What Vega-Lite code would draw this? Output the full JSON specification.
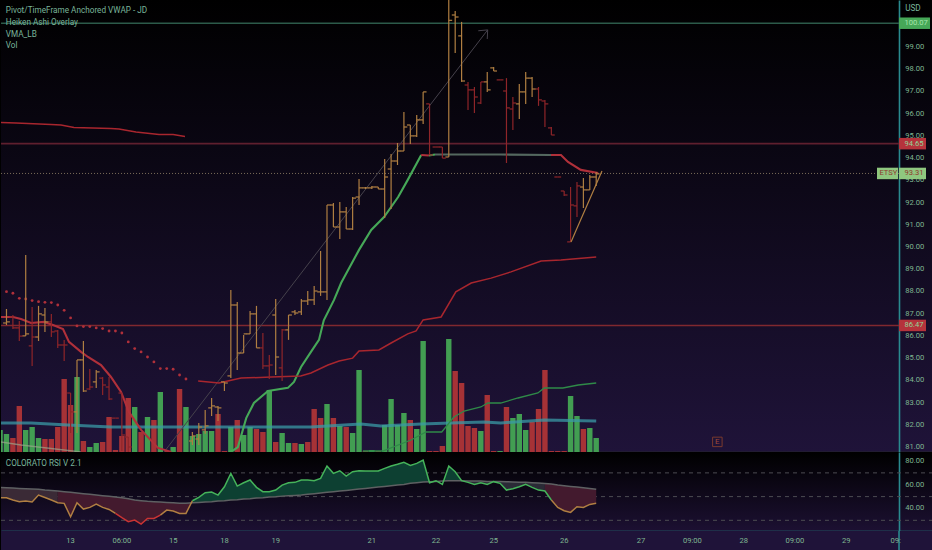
{
"$schema":"https://vega.github.io/schema/vega-lite/v6.json",
"padding":0,
"spacing":0,
"bounds":"flush",
"background":"#000000",
"config":{"legend":{"disable":true},"view":{"stroke":null},"concat":{"spacing":0},"font":"Roboto","axis":{"labelFont":"Roboto","labelFontSize":7.6,"labelColor":"#7fb591","grid":false}},
"datasets":{
"bars":[
{"t":0,"h":87.21,"l":86.49,"o":86.58,"c":86.63,"dir":"up"},
{"t":1,"h":86.94,"l":86.31,"o":86.85,"c":86.36,"dir":"down"},
{"t":2,"h":86.67,"l":85.77,"o":86.36,"c":85.99,"dir":"down"},
{"t":3,"h":89.64,"l":86.0,"o":86.0,"c":86.09,"dir":"up"},
{"t":4,"h":87.3,"l":84.65,"o":85.55,"c":85.95,"dir":"down"},
{"t":5,"h":87.35,"l":85.77,"o":85.95,"c":86.99,"dir":"up"},
{"t":6,"h":87.26,"l":86.18,"o":86.94,"c":86.63,"dir":"up"},
{"t":7,"h":86.99,"l":85.95,"o":86.63,"c":86.18,"dir":"down"},
{"t":8,"h":86.27,"l":85.46,"o":86.22,"c":85.59,"dir":"down"},
{"t":9,"h":85.82,"l":84.87,"o":85.59,"c":85.59,"dir":"down"},
{"t":10,"h":83.43,"l":81.63,"o":83.43,"c":82.58,"dir":"down"},
{"t":11,"h":84.92,"l":81.63,"o":82.58,"c":84.92,"dir":"up"},
{"t":12,"h":85.77,"l":83.48,"o":84.92,"c":83.52,"dir":"up"},
{"t":13,"h":84.51,"l":83.57,"o":83.61,"c":83.7,"dir":"down"},
{"t":14,"h":84.47,"l":83.66,"o":83.93,"c":84.38,"dir":"up"},
{"t":15,"h":84.15,"l":83.34,"o":84.1,"c":83.79,"dir":"down"},
{"t":16,"h":84.15,"l":83.12,"o":83.7,"c":83.16,"dir":"down"},
{"t":17,"h":82.3,"l":82.3,"o":82.3,"c":82.3,"dir":"down"},
{"t":18,"h":83.43,"l":80.82,"o":83.43,"c":81.54,"dir":"down"},
{"t":19,"h":81.45,"l":80.78,"o":81.45,"c":81.0,"dir":"down"},
{"t":29,"h":81.68,"l":81.09,"o":81.27,"c":81.5,"dir":"up"},
{"t":30,"h":82.08,"l":81.09,"o":81.36,"c":81.9,"dir":"up"},
{"t":31,"h":82.67,"l":81.6,"o":81.77,"c":81.95,"dir":"up"},
{"t":32,"h":83.21,"l":82.4,"o":82.76,"c":82.85,"dir":"up"},
{"t":33,"h":82.85,"l":82.17,"o":82.8,"c":82.76,"dir":"up"},
{"t":34,"h":83.93,"l":83.52,"o":83.93,"c":83.88,"dir":"up"},
{"t":35,"h":88.07,"l":84.1,"o":84.2,"c":87.39,"dir":"up"},
{"t":36,"h":87.53,"l":84.47,"o":87.39,"c":85.23,"dir":"up"},
{"t":37,"h":86.04,"l":85.23,"o":85.23,"c":86.09,"dir":"up"},
{"t":38,"h":87.12,"l":86.09,"o":86.09,"c":86.99,"dir":"up"},
{"t":39,"h":87.35,"l":85.46,"o":86.99,"c":85.46,"dir":"up"},
{"t":40,"h":86.13,"l":84.51,"o":85.46,"c":84.65,"dir":"down"},
{"t":41,"h":85.14,"l":84.06,"o":84.65,"c":84.69,"dir":"down"},
{"t":42,"h":87.66,"l":84.24,"o":86.94,"c":85.05,"dir":"up"},
{"t":43,"h":86.31,"l":83.97,"o":84.56,"c":86.27,"dir":"down"},
{"t":44,"h":86.94,"l":85.82,"o":86.27,"c":86.94,"dir":"up"},
{"t":45,"h":87.17,"l":86.94,"o":87.08,"c":87.03,"dir":"up"},
{"t":46,"h":87.66,"l":86.94,"o":87.08,"c":87.57,"dir":"up"},
{"t":47,"h":88.02,"l":87.39,"o":87.57,"c":87.62,"dir":"up"},
{"t":48,"h":88.25,"l":87.39,"o":87.62,"c":88.02,"dir":"up"},
{"t":49,"h":89.82,"l":87.8,"o":87.98,"c":87.98,"dir":"up"},
{"t":50,"h":91.89,"l":87.62,"o":87.98,"c":91.89,"dir":"up"},
{"t":51,"h":91.98,"l":90.9,"o":91.89,"c":90.9,"dir":"up"},
{"t":52,"h":92.03,"l":90.36,"o":90.9,"c":91.58,"dir":"up"},
{"t":53,"h":91.8,"l":90.81,"o":91.58,"c":90.81,"dir":"up"},
{"t":54,"h":92.25,"l":90.77,"o":90.81,"c":92.2,"dir":"up"},
{"t":55,"h":93.06,"l":91.89,"o":92.25,"c":92.66,"dir":"up"},
{"t":56,"h":92.7,"l":92.61,"o":92.66,"c":92.66,"dir":"up"},
{"t":57,"h":92.75,"l":92.61,"o":92.66,"c":92.7,"dir":"up"},
{"t":58,"h":92.7,"l":92.61,"o":92.7,"c":92.61,"dir":"up"},
{"t":59,"h":93.96,"l":91.31,"o":92.61,"c":93.15,"dir":"up"},
{"t":60,"h":94.19,"l":91.71,"o":93.51,"c":93.87,"dir":"up"},
{"t":61,"h":94.68,"l":93.69,"o":93.87,"c":94.32,"dir":"up"},
{"t":62,"h":96.08,"l":94.32,"o":94.32,"c":95.4,"dir":"up"},
{"t":63,"h":95.49,"l":94.64,"o":95.49,"c":95.0,"dir":"up"},
{"t":64,"h":95.94,"l":94.95,"o":95.0,"c":95.72,"dir":"up"},
{"t":65,"h":96.98,"l":95.54,"o":95.72,"c":96.98,"dir":"up"},
{"t":66,"h":96.44,"l":94.14,"o":96.44,"c":94.14,"dir":"down"},
{"t":67,"h":94.5,"l":94.5,"o":94.5,"c":94.5,"dir":"down"},
{"t":68,"h":94.5,"l":94.0,"o":94.5,"c":94.0,"dir":"down"},
{"t":69,"h":101.12,"l":94.05,"o":94.05,"c":100.2,"dir":"up"},
{"t":70,"h":100.62,"l":98.73,"o":100.44,"c":100.35,"dir":"up"},
{"t":71,"h":100.13,"l":97.43,"o":99.5,"c":97.47,"dir":"up"},
{"t":72,"h":97.43,"l":96.17,"o":97.29,"c":97.07,"dir":"down"},
{"t":73,"h":97.2,"l":96.03,"o":97.07,"c":96.75,"dir":"down"},
{"t":74,"h":97.43,"l":96.44,"o":96.48,"c":97.43,"dir":"down"},
{"t":75,"h":97.88,"l":96.98,"o":97.43,"c":97.07,"dir":"up"},
{"t":76,"h":98.1,"l":97.92,"o":98.06,"c":97.92,"dir":"up"},
{"t":77,"h":97.52,"l":97.52,"o":97.52,"c":97.52,"dir":"down"},
{"t":78,"h":97.6,"l":93.78,"o":97.02,"c":96.26,"dir":"down"},
{"t":79,"h":96.75,"l":95.27,"o":96.21,"c":96.48,"dir":"down"},
{"t":80,"h":97.34,"l":95.76,"o":96.44,"c":96.98,"dir":"up"},
{"t":81,"h":97.88,"l":96.44,"o":96.98,"c":97.6,"dir":"up"},
{"t":82,"h":97.65,"l":96.75,"o":97.6,"c":97.11,"dir":"up"},
{"t":83,"h":97.2,"l":96.35,"o":97.11,"c":96.62,"dir":"down"},
{"t":84,"h":96.62,"l":95.4,"o":96.57,"c":96.44,"dir":"down"},
{"t":85,"h":95.4,"l":95.04,"o":95.36,"c":95.04,"dir":"down"},
{"t":86,"h":93.15,"l":93.15,"o":93.15,"c":93.15,"dir":"down"},
{"t":87,"h":92.52,"l":92.3,"o":92.52,"c":92.34,"dir":"down"},
{"t":88,"h":92.7,"l":90.23,"o":90.23,"c":91.89,"dir":"down"},
{"t":89,"h":92.93,"l":91.35,"o":91.85,"c":92.75,"dir":"down"},
{"t":90,"h":93.11,"l":91.76,"o":92.7,"c":92.57,"dir":"up"},
{"t":91,"h":93.24,"l":92.57,"o":92.57,"c":93.15,"dir":"up"},
{"t":92,"h":93.38,"l":92.75,"o":93.15,"c":93.29,"dir":"up"}
],
"volume":[
{"t":-1,"vol":44,"side":"up"},{"t":0,"vol":36,"side":"up"},{"t":1,"vol":28,"side":"down"},{"t":2,"vol":92,"side":"down"},{"t":3,"vol":44,"side":"up"},{"t":4,"vol":50,"side":"up"},{"t":5,"vol":28,"side":"up"},{"t":6,"vol":26,"side":"down"},{"t":7,"vol":26,"side":"down"},{"t":8,"vol":50,"side":"down"},
{"t":9,"vol":146,"side":"down"},{"t":10,"vol":94,"side":"down"},{"t":11,"vol":150,"side":"up"},{"t":12,"vol":22,"side":"down"},{"t":13,"vol":10,"side":"up"},{"t":14,"vol":18,"side":"up"},{"t":15,"vol":20,"side":"down"},{"t":16,"vol":70,"side":"down"},{"t":17,"vol":4,"side":"down"},{"t":18,"vol":32,"side":"down"},
{"t":19,"vol":108,"side":"down"},{"t":20,"vol":90,"side":"up"},{"t":21,"vol":40,"side":"down"},{"t":22,"vol":70,"side":"up"},{"t":23,"vol":64,"side":"down"},{"t":24,"vol":120,"side":"up"},{"t":25,"vol":2,"side":"down"},{"t":26,"vol":10,"side":"up"},{"t":27,"vol":126,"side":"down"},{"t":28,"vol":90,"side":"up"},
{"t":29,"vol":32,"side":"up"},{"t":30,"vol":36,"side":"up"},{"t":31,"vol":42,"side":"up"},{"t":32,"vol":42,"side":"up"},{"t":33,"vol":76,"side":"down"},{"t":34,"vol":2,"side":"down"},{"t":35,"vol":50,"side":"up"},{"t":36,"vol":64,"side":"down"},{"t":37,"vol":34,"side":"up"},{"t":38,"vol":50,"side":"up"},
{"t":39,"vol":46,"side":"down"},{"t":40,"vol":40,"side":"down"},{"t":41,"vol":124,"side":"up"},{"t":42,"vol":20,"side":"down"},{"t":43,"vol":38,"side":"up"},{"t":44,"vol":18,"side":"up"},{"t":45,"vol":18,"side":"down"},{"t":46,"vol":16,"side":"up"},{"t":47,"vol":20,"side":"down"},{"t":48,"vol":86,"side":"down"},
{"t":49,"vol":68,"side":"down"},{"t":50,"vol":96,"side":"up"},{"t":51,"vol":68,"side":"down"},{"t":52,"vol":52,"side":"up"},{"t":53,"vol":50,"side":"down"},{"t":54,"vol":38,"side":"up"},{"t":55,"vol":164,"side":"up"},{"t":56,"vol":2,"side":"down"},{"t":57,"vol":4,"side":"up"},{"t":58,"vol":2,"side":"down"},
{"t":59,"vol":54,"side":"up"},{"t":60,"vol":106,"side":"up"},{"t":61,"vol":54,"side":"up"},{"t":62,"vol":78,"side":"up"},{"t":63,"vol":64,"side":"down"},{"t":64,"vol":46,"side":"up"},{"t":65,"vol":222,"side":"up"},{"t":66,"vol":2,"side":"down"},{"t":67,"vol":2,"side":"down"},{"t":68,"vol":12,"side":"down"},
{"t":69,"vol":226,"side":"up"},{"t":70,"vol":162,"side":"down"},{"t":71,"vol":138,"side":"down"},{"t":72,"vol":52,"side":"down"},{"t":73,"vol":48,"side":"down"},{"t":74,"vol":42,"side":"up"},{"t":75,"vol":114,"side":"down"},{"t":76,"vol":2,"side":"down"},{"t":77,"vol":2,"side":"up"},{"t":78,"vol":90,"side":"down"},
{"t":79,"vol":68,"side":"up"},{"t":80,"vol":76,"side":"up"},{"t":81,"vol":44,"side":"up"},{"t":82,"vol":60,"side":"down"},{"t":83,"vol":86,"side":"down"},{"t":84,"vol":164,"side":"down"},{"t":85,"vol":2,"side":"down"},{"t":86,"vol":2,"side":"down"},{"t":87,"vol":2,"side":"down"},{"t":88,"vol":112,"side":"up"},
{"t":89,"vol":72,"side":"up"},{"t":90,"vol":46,"side":"down"},{"t":91,"vol":48,"side":"up"},{"t":92,"vol":28,"side":"up"}
],
"volumeAverages":[
{"t":-0.85,"vol":58,"line":"teal"},{"t":3.83,"vol":58,"line":"teal"},{"t":9.6,"vol":54,"line":"teal"},{"t":16.3,"vol":50,"line":"teal"},{"t":30.4,"vol":50,"line":"teal"},{"t":47.5,"vol":50,"line":"teal"},{"t":55.3,"vol":56,"line":"teal"},{"t":58.4,"vol":52,"line":"teal"},{"t":64.7,"vol":56,"line":"teal"},{"t":69.3,"vol":58,"line":"teal"},{"t":74.5,"vol":60,"line":"teal"},{"t":77.1,"vol":58,"line":"teal"},{"t":83.9,"vol":64,"line":"teal"},{"t":92,"vol":62,"line":"teal"},
{"t":55.6,"vol":2,"line":"green"},{"t":58.7,"vol":2,"line":"green"},{"t":63.1,"vol":24,"line":"green"},{"t":65.45,"vol":40,"line":"green"},{"t":67.9,"vol":40,"line":"green"},{"t":69.8,"vol":70,"line":"green"},{"t":71.4,"vol":82,"line":"green"},{"t":74,"vol":90,"line":"green"},{"t":75.1,"vol":98,"line":"green"},{"t":77.1,"vol":98,"line":"green"},{"t":79.8,"vol":108,"line":"green"},{"t":82.9,"vol":118,"line":"green"},{"t":83.9,"vol":128,"line":"green"},{"t":86.8,"vol":128,"line":"green"},{"t":89.2,"vol":134,"line":"green"},{"t":92,"vol":138,"line":"green"},
{"t":-0.85,"vol":20,"line":"pale"},{"t":2.27,"vol":14,"line":"pale"},{"t":11.6,"vol":0,"line":"pale"}
],
"vma":[
{"t":-0.85,"p":86.85,"kind":"red","run":"a"},{"t":1.02,"p":86.85,"kind":"red","run":"a"},{"t":2.27,"p":86.76,"kind":"red","run":"a"},{"t":3.83,"p":86.58,"kind":"red","run":"a"},{"t":5.85,"p":86.63,"kind":"red","run":"a"},{"t":7.26,"p":86.49,"kind":"red","run":"a"},{"t":8.82,"p":86.31,"kind":"red","run":"a"},{"t":9.75,"p":85.73,"kind":"red","run":"a"},{"t":11.63,"p":85.28,"kind":"red","run":"a"},{"t":12.72,"p":85.05,"kind":"red","run":"a"},{"t":14.75,"p":84.69,"kind":"red","run":"a"},{"t":16.3,"p":84.15,"kind":"red","run":"a"},{"t":17.87,"p":83.48,"kind":"red","run":"a"},{"t":19.1,"p":82.58,"kind":"red","run":"a"},{"t":21,"p":81.77,"kind":"red","run":"a"},{"t":23.64,"p":80.96,"kind":"red","run":"a"},{"t":25.7,"p":80.78,"kind":"red","run":"a"},
{"t":34.7,"p":80.78,"kind":"green","run":"b"},{"t":35.5,"p":80.87,"kind":"green","run":"b"},{"t":36.1,"p":81.0,"kind":"green","run":"b"},{"t":37.4,"p":82.3,"kind":"green","run":"b"},{"t":38.6,"p":82.98,"kind":"green","run":"b"},{"t":40.8,"p":83.52,"kind":"green","run":"b"},{"t":43.9,"p":83.66,"kind":"green","run":"b"},{"t":44.85,"p":83.93,"kind":"green","run":"b"},{"t":45.95,"p":84.6,"kind":"green","run":"b"},{"t":47.5,"p":85.28,"kind":"green","run":"b"},{"t":48.75,"p":85.82,"kind":"green","run":"b"},{"t":49.5,"p":86.7,"kind":"green","run":"b"},{"t":51.1,"p":87.62,"kind":"green","run":"b"},{"t":52.2,"p":88.38,"kind":"green","run":"b"},{"t":55,"p":89.87,"kind":"green","run":"b"},{"t":56.9,"p":90.77,"kind":"green","run":"b"},{"t":58.9,"p":91.35,"kind":"green","run":"b"},{"t":61.1,"p":92.25,"kind":"green","run":"b"},{"t":62.6,"p":93.02,"kind":"green","run":"b"},{"t":64.7,"p":94.14,"kind":"green","run":"b"},
{"t":64.7,"p":94.14,"kind":"red","run":"c"},{"t":65.9,"p":94.12,"kind":"red","run":"c"},
{"t":65.9,"p":94.12,"kind":"green","run":"d"},{"t":66.85,"p":94.16,"kind":"green","run":"d"},
{"t":66.85,"p":94.16,"kind":"grey","run":"e"},{"t":70.9,"p":94.16,"kind":"grey","run":"e"},{"t":77.1,"p":94.16,"kind":"grey","run":"e"},{"t":84.95,"p":94.14,"kind":"grey","run":"e"},
{"t":84.95,"p":94.14,"kind":"red","run":"f"},{"t":86.5,"p":94.14,"kind":"red","run":"f"},{"t":87.6,"p":93.83,"kind":"red","run":"f"},{"t":89.6,"p":93.47,"kind":"red","run":"f"},{"t":92.3,"p":93.33,"kind":"red","run":"f"}
],
"overlays":[
{"t":-0.85,"p":95.6,"line":"vwapTop","kind":"vwap"},{"t":1.49,"p":95.58,"line":"vwapTop","kind":"vwap"},{"t":6.95,"p":95.51,"line":"vwapTop","kind":"vwap"},{"t":8.5,"p":95.49,"line":"vwapTop","kind":"vwap"},{"t":10.53,"p":95.38,"line":"vwapTop","kind":"vwap"},{"t":16.3,"p":95.33,"line":"vwapTop","kind":"vwap"},{"t":17.55,"p":95.31,"line":"vwapTop","kind":"vwap"},{"t":20.2,"p":95.18,"line":"vwapTop","kind":"vwap"},{"t":23.8,"p":95.06,"line":"vwapTop","kind":"vwap"},{"t":26,"p":95.06,"line":"vwapTop","kind":"vwap"},{"t":27.85,"p":94.97,"line":"vwapTop","kind":"vwap"},
{"t":29.9,"p":83.97,"line":"vwapLow","kind":"vwap"},{"t":33.15,"p":83.88,"line":"vwapLow","kind":"vwap"},{"t":36.6,"p":84.1,"line":"vwapLow","kind":"vwap"},{"t":41.3,"p":84.15,"line":"vwapLow","kind":"vwap"},{"t":45.9,"p":84.2,"line":"vwapLow","kind":"vwap"},{"t":47.5,"p":84.33,"line":"vwapLow","kind":"vwap"},{"t":50.15,"p":84.69,"line":"vwapLow","kind":"vwap"},{"t":51.9,"p":84.87,"line":"vwapLow","kind":"vwap"},{"t":54,"p":85.0,"line":"vwapLow","kind":"vwap"},{"t":55,"p":85.32,"line":"vwapLow","kind":"vwap"},{"t":58.1,"p":85.37,"line":"vwapLow","kind":"vwap"},{"t":60,"p":85.68,"line":"vwapLow","kind":"vwap"},{"t":62.6,"p":86.09,"line":"vwapLow","kind":"vwap"},{"t":63.9,"p":86.22,"line":"vwapLow","kind":"vwap"},{"t":65,"p":86.72,"line":"vwapLow","kind":"vwap"},{"t":67.8,"p":86.85,"line":"vwapLow","kind":"vwap"},{"t":70.1,"p":87.98,"line":"vwapLow","kind":"vwap"},{"t":72.5,"p":88.38,"line":"vwapLow","kind":"vwap"},{"t":75.6,"p":88.6,"line":"vwapLow","kind":"vwap"},{"t":78.7,"p":88.88,"line":"vwapLow","kind":"vwap"},{"t":83.4,"p":89.37,"line":"vwapLow","kind":"vwap"},{"t":86.5,"p":89.42,"line":"vwapLow","kind":"vwap"},{"t":92,"p":89.55,"line":"vwapLow","kind":"vwap"},
{"t":24.6,"p":80.78,"line":"trend","kind":"trend"},{"t":75.07,"p":99.77,"line":"trend","kind":"trend"},
{"t":73.6,"p":99.73,"line":"headA","kind":"trend"},{"t":75.07,"p":99.77,"line":"headA","kind":"trend"},
{"t":75.0,"p":99.36,"line":"headB","kind":"trend"},{"t":75.07,"p":99.77,"line":"headB","kind":"trend"},
{"t":88.07,"p":90.23,"line":"wedge","kind":"wedge"},{"t":92.9,"p":93.42,"line":"wedge","kind":"wedge"}
],
"sar":[
{"t":0,"p":87.99},{"t":1,"p":87.92},{"t":2,"p":87.69},{"t":3,"p":87.66},{"t":4,"p":87.59},{"t":5,"p":87.54},{"t":6,"p":87.51},{"t":7,"p":87.5},{"t":8,"p":87.39},{"t":9,"p":87.15},{"t":10,"p":86.81},{"t":11,"p":86.45},{"t":12,"p":86.42},{"t":13,"p":86.42},{"t":14,"p":86.36},{"t":15,"p":86.33},{"t":16,"p":86.22},{"t":17,"p":86.22},{"t":18,"p":86.13},{"t":19,"p":85.73},{"t":20,"p":85.43},{"t":21,"p":85.28},{"t":22,"p":85.05},{"t":23,"p":84.83},{"t":24,"p":84.53},{"t":25,"p":84.53},{"t":26,"p":84.5},{"t":27,"p":84.24},{"t":28,"p":84.06}
],
"levels":[
{"p":100.07,"start":-0.85,"end":139.24,"kind":"green"},
{"p":94.65,"start":-0.85,"end":139.24,"kind":"darkred"},
{"p":86.47,"start":-0.85,"end":139.24,"kind":"red"}
],
"tags":[
{"p":100.07,"start":139.24,"end":144.07,"label":"100.07","kind":"gain"},
{"p":94.65,"start":139.24,"end":143.45,"label":"94.65","kind":"loss"},
{"p":93.31,"start":139.24,"end":143.45,"label":"93.31","kind":"last"},
{"p":93.31,"start":135.8,"end":139.09,"label":"ETSY","kind":"last"},
{"p":86.47,"start":139.24,"end":143.45,"label":"86.47","kind":"loss"}
],
"notes":[
{"t":-0.1,"p":100.61,"label":"Pivot/TimeFrame Anchored VWAP - JD"},
{"t":-0.1,"p":100.07,"label":"Heiken Ashi Overlay"},
{"t":-0.1,"p":99.54,"label":"VMA_LB"},
{"t":-0.1,"p":99.04,"label":"Vol"},
{"t":140.2,"p":100.7,"label":"USD"}
],
"priceLabels":[{"p":81},{"p":82},{"p":83},{"p":84},{"p":85},{"p":86},{"p":87},{"p":88},{"p":89},{"p":90},{"p":91},{"p":92},{"p":93},{"p":94},{"p":95},{"p":96},{"p":97},{"p":98},{"p":99}],
"rsiLabels":[{"rsi":40},{"rsi":60},{"rsi":80}],
"rsi":[
{"t":-1,"rsi":49.05,"sig":57.8},{"t":0,"rsi":49.05,"sig":57.5},{"t":1,"rsi":47.1,"sig":57.2},{"t":2,"rsi":45.7,"sig":56.9},{"t":3,"rsi":46.2,"sig":56.6},{"t":4,"rsi":45.4,"sig":56.4},{"t":5,"rsi":51.3,"sig":56.1},{"t":6,"rsi":49.3,"sig":55.5},{"t":7,"rsi":47.1,"sig":55.2},{"t":8,"rsi":44.8,"sig":54.7},{"t":9,"rsi":44.3,"sig":54.1},{"t":10,"rsi":33.0,"sig":53.6},{"t":11,"rsi":44.8,"sig":53.0},{"t":12,"rsi":39.5,"sig":52.4},{"t":13,"rsi":40.9,"sig":51.9},{"t":14,"rsi":43.7,"sig":51.3},{"t":15,"rsi":40.9,"sig":50.7},{"t":16,"rsi":39.2,"sig":50.2},{"t":17,"rsi":35.8,"sig":49.6},{"t":18,"rsi":32.2,"sig":49.0},{"t":19,"rsi":28.8,"sig":48.2},{"t":20,"rsi":30.2,"sig":47.1},{"t":21,"rsi":26.8,"sig":46.5},{"t":22,"rsi":31.6,"sig":46.0},{"t":23,"rsi":31.6,"sig":45.7},{"t":24,"rsi":34.4,"sig":45.4},{"t":25,"rsi":38.6,"sig":45.1},{"t":26,"rsi":37.8,"sig":44.8},{"t":27,"rsi":35.8,"sig":44.3},{"t":28,"rsi":35.8,"sig":44.3},
{"t":29,"rsi":46.5,"sig":44.8},{"t":30,"rsi":49.3,"sig":45.1},{"t":31,"rsi":53.3,"sig":45.4},{"t":32,"rsi":53.8,"sig":45.7},{"t":33,"rsi":51.3,"sig":46.2},{"t":34,"rsi":58.3,"sig":46.5},{"t":35,"rsi":69.6,"sig":47.1},{"t":36,"rsi":58.9,"sig":47.4},{"t":37,"rsi":61.7,"sig":47.9},{"t":38,"rsi":64.0,"sig":48.2},{"t":39,"rsi":57.8,"sig":48.8},{"t":40,"rsi":54.1,"sig":49.0},{"t":41,"rsi":54.1,"sig":49.6},{"t":42,"rsi":55.5,"sig":49.9},{"t":43,"rsi":59.7,"sig":50.4},{"t":44,"rsi":61.7,"sig":50.7},{"t":45,"rsi":62.0,"sig":51.0},{"t":46,"rsi":64.0,"sig":51.3},{"t":47,"rsi":64.0,"sig":51.9},{"t":48,"rsi":63.4,"sig":52.4},{"t":49,"rsi":65.4,"sig":53.0},{"t":50,"rsi":75.8,"sig":53.6},{"t":51,"rsi":69.6,"sig":54.1},{"t":52,"rsi":71.8,"sig":54.7},{"t":53,"rsi":67.3,"sig":55.2},{"t":54,"rsi":71.0,"sig":55.8},{"t":55,"rsi":71.8,"sig":56.4},{"t":56,"rsi":71.6,"sig":56.9},{"t":57,"rsi":71.6,"sig":57.5},{"t":58,"rsi":71.6,"sig":58.1},{"t":59,"rsi":73.8,"sig":58.6},{"t":60,"rsi":75.8,"sig":59.2},{"t":61,"rsi":77.2,"sig":59.7},{"t":62,"rsi":78.9,"sig":60.3},{"t":63,"rsi":76.3,"sig":61.2},{"t":64,"rsi":78.0,"sig":61.7},{"t":65,"rsi":80.8,"sig":62.3},{"t":66,"rsi":61.7,"sig":62.6},{"t":67,"rsi":63.4,"sig":62.8},{"t":68,"rsi":60.3,"sig":63.1},{"t":69,"rsi":75.8,"sig":63.4},{"t":70,"rsi":71.0,"sig":63.4},{"t":71,"rsi":63.4,"sig":63.4},
{"t":72,"rsi":62.0,"sig":63.1},{"t":73,"rsi":60.3,"sig":63.1},{"t":74,"rsi":61.7,"sig":63.1},{"t":75,"rsi":60.3,"sig":62.8},{"t":76,"rsi":62.6,"sig":62.8},{"t":77,"rsi":61.2,"sig":62.8},{"t":78,"rsi":55.5,"sig":62.6},{"t":79,"rsi":56.6,"sig":62.3},{"t":80,"rsi":58.3,"sig":62.0},{"t":81,"rsi":60.3,"sig":62.0},{"t":82,"rsi":57.8,"sig":61.7},{"t":83,"rsi":55.5,"sig":61.4},{"t":84,"rsi":54.7,"sig":61.1},{"t":85,"rsi":47.1,"sig":60.6},{"t":86,"rsi":40.9,"sig":59.7},{"t":87,"rsi":38.1,"sig":59.2},{"t":88,"rsi":36.7,"sig":58.6},{"t":89,"rsi":41.5,"sig":58.1},{"t":90,"rsi":40.9,"sig":57.5},{"t":91,"rsi":43.4,"sig":56.9},{"t":92,"rsi":44.3,"sig":56.1}
],
"rsiLevels":[{"rsi":70},{"rsi":50},{"rsi":30}],
"timeLabels":[{"t":10,"label":"13"},{"t":18,"label":"06:00"},{"t":26,"label":"15"},{"t":34,"label":"18"},{"t":42,"label":"19"},{"t":57,"label":"21"},{"t":67,"label":"22"},{"t":76,"label":"25"},{"t":87,"label":"26"},{"t":99,"label":"27"},{"t":107,"label":"09:00"},{"t":115,"label":"28"},{"t":123,"label":"09:00"},{"t":131,"label":"29"},{"t":138.7,"label":"09:"}]
},
"vconcat":[
{
"width":932,"height":452,
"view":{"stroke":null,"fill":{"gradient":"linear","x1":0,"y1":0,"x2":0,"y2":1,"stops":[{"offset":0,"color":"#000000"},{"offset":1,"color":"#1f1339"}]}},
"resolve":{"scale":{"y":"independent","color":"independent"}},
"layer":[
{
"layer":[
{"data":{"name":"volume"},"mark":{"type":"bar","size":5.4,"clip":true},"encoding":{
"x":{"field":"t","type":"quantitative","scale":{"domain":[-0.855,144.54],"nice":false,"zero":false,"padding":0},"axis":{"title":null,"labels":false,"ticks":false,"domainColor":"#26262e","domainWidth":2}},
"y":{"field":"vol","type":"quantitative","scale":{"domain":[0,904],"nice":false},"axis":null},
"color":{"field":"side","type":"nominal","scale":{"domain":["up","down"],"range":["#429e52","#a63236"]}}}},
{"data":{"name":"volumeAverages"},"transform":[{"filter":"datum.line==='teal'"}],"mark":{"type":"line","color":"#3a9aa5","strokeWidth":3,"opacity":0.75,"clip":true},"encoding":{
"x":{"field":"t","type":"quantitative","scale":{"domain":[-0.855,144.54],"nice":false,"zero":false,"padding":0},"axis":{"title":null}},
"y":{"field":"vol","type":"quantitative","scale":{"domain":[0,904],"nice":false},"axis":null}}},
{"data":{"name":"volumeAverages"},"transform":[{"filter":"datum.line==='green'"}],"mark":{"type":"line","color":"#2f8a48","strokeWidth":1.3,"clip":true},"encoding":{
"x":{"field":"t","type":"quantitative","scale":{"domain":[-0.855,144.54],"nice":false,"zero":false,"padding":0},"axis":{"title":null}},
"y":{"field":"vol","type":"quantitative","scale":{"domain":[0,904],"nice":false},"axis":null}}},
{"data":{"name":"volumeAverages"},"transform":[{"filter":"datum.line==='pale'"}],"mark":{"type":"line","color":"#9aa58a","strokeWidth":1.3,"opacity":0.7,"clip":true},"encoding":{
"x":{"field":"t","type":"quantitative","scale":{"domain":[-0.855,144.54],"nice":false,"zero":false,"padding":0},"axis":{"title":null}},
"y":{"field":"vol","type":"quantitative","scale":{"domain":[0,904],"nice":false},"axis":null}}}
]
},
{
"resolve":{"scale":{"color":"independent"}},
"layer":[
{"data":{"name":"levels"},"mark":{"type":"rule","strokeWidth":1.6},"encoding":{
"x":{"field":"start","type":"quantitative","scale":{"domain":[-0.855,144.54],"nice":false,"zero":false,"padding":0},"axis":{"title":null}},"x2":{"field":"end"},
"y":{"field":"p","type":"quantitative","scale":{"domain":[80.775,101.115],"nice":false,"zero":false},
"axis":{"title":null,"orient":"right","offset":-34,"labels":false,"ticks":false,"domainColor":"#2a8a8f","domainWidth":1.6}},
"color":{"field":"kind","type":"nominal","scale":{"domain":["green","darkred","red"],"range":["#2c5a4a","#5f1f2e","#80282f"]}}}},
{"data":{"name":"priceLabels"},"mark":{"type":"text","align":"left","baseline":"middle","fontSize":7.6,"color":"#7fb591"},"encoding":{
"x":{"datum":140.2,"type":"quantitative","scale":{"domain":[-0.855,144.54],"nice":false,"zero":false,"padding":0},"axis":{"title":null}},
"y":{"field":"p","type":"quantitative","scale":{"domain":[80.775,101.115],"nice":false,"zero":false},"axis":{"title":null}},
"text":{"field":"p","type":"quantitative","format":".2f"}}},
{"data":{"values":[{"p":93.31,"start":-0.85,"end":139.24}]},"mark":{"type":"rule","strokeWidth":0.9,"strokeDash":[1,2],"color":"#8a7a62"},"encoding":{
"x":{"field":"start","type":"quantitative","scale":{"domain":[-0.855,144.54],"nice":false,"zero":false,"padding":0},"axis":{"title":null}},"x2":{"field":"end"},
"y":{"field":"p","type":"quantitative","scale":{"domain":[80.775,101.115],"nice":false,"zero":false},"axis":{"title":null}}}},
{"data":{"name":"overlays"},"transform":[{"filter":"datum.kind==='trend'"}],"mark":{"type":"line","color":"#46424c","strokeWidth":1,"clip":true},"encoding":{
"x":{"field":"t","type":"quantitative","scale":{"domain":[-0.855,144.54],"nice":false,"zero":false,"padding":0},"axis":{"title":null}},
"y":{"field":"p","type":"quantitative","scale":{"domain":[80.775,101.115],"nice":false,"zero":false},"axis":{"title":null}},
"detail":{"field":"line"}}},
{"data":{"name":"sar"},"mark":{"type":"point","filled":true,"size":8,"opacity":1,"color":"#b0303a"},"encoding":{
"x":{"field":"t","type":"quantitative","scale":{"domain":[-0.855,144.54],"nice":false,"zero":false,"padding":0},"axis":{"title":null}},
"y":{"field":"p","type":"quantitative","scale":{"domain":[80.775,101.115],"nice":false,"zero":false},"axis":{"title":null}}}},
{"data":{"name":"vma"},"mark":{"type":"line","strokeWidth":2.1,"clip":true},"encoding":{
"x":{"field":"t","type":"quantitative","scale":{"domain":[-0.855,144.54],"nice":false,"zero":false,"padding":0},"axis":{"title":null}},
"y":{"field":"p","type":"quantitative","scale":{"domain":[80.775,101.115],"nice":false,"zero":false},"axis":{"title":null}},
"detail":{"field":"run"},
"color":{"field":"kind","type":"nominal","scale":{"domain":["green","red","grey"],"range":["#46a858","#b0303a","#54685f"]}}}},
{"data":{"name":"overlays"},"transform":[{"filter":"datum.kind==='vwap'"}],"mark":{"type":"line","color":"#a8262e","strokeWidth":1.5,"clip":true},"encoding":{
"x":{"field":"t","type":"quantitative","scale":{"domain":[-0.855,144.54],"nice":false,"zero":false,"padding":0},"axis":{"title":null}},
"y":{"field":"p","type":"quantitative","scale":{"domain":[80.775,101.115],"nice":false,"zero":false},"axis":{"title":null}},
"detail":{"field":"line"}}},
{"data":{"name":"bars"},"mark":{"type":"rule","strokeWidth":1.2,"clip":true},"encoding":{
"x":{"field":"t","type":"quantitative","scale":{"domain":[-0.855,144.54],"nice":false,"zero":false,"padding":0},"axis":{"title":null}},
"y":{"field":"h","type":"quantitative","scale":{"domain":[80.775,101.115],"nice":false,"zero":false},"axis":{"title":null}},"y2":{"field":"l"},
"color":{"field":"dir","type":"nominal","scale":{"domain":["up","down"],"range":["#b07f42","#8f2529"]}}}},
{"data":{"name":"bars"},"mark":{"type":"tick","orient":"horizontal","size":3.4,"thickness":1.2,"xOffset":-1.7,"opacity":1},"encoding":{
"x":{"field":"t","type":"quantitative","scale":{"domain":[-0.855,144.54],"nice":false,"zero":false,"padding":0},"axis":{"title":null}},
"y":{"field":"o","type":"quantitative","scale":{"domain":[80.775,101.115],"nice":false,"zero":false},"axis":{"title":null}},
"color":{"field":"dir","type":"nominal","scale":{"domain":["up","down"],"range":["#b07f42","#8f2529"]}}}},
{"data":{"name":"bars"},"mark":{"type":"tick","orient":"horizontal","size":3.4,"thickness":1.2,"xOffset":1.7,"opacity":1},"encoding":{
"x":{"field":"t","type":"quantitative","scale":{"domain":[-0.855,144.54],"nice":false,"zero":false,"padding":0},"axis":{"title":null}},
"y":{"field":"c","type":"quantitative","scale":{"domain":[80.775,101.115],"nice":false,"zero":false},"axis":{"title":null}},
"color":{"field":"dir","type":"nominal","scale":{"domain":["up","down"],"range":["#b07f42","#8f2529"]}}}},
{"data":{"name":"overlays"},"transform":[{"filter":"datum.kind==='wedge'"}],"mark":{"type":"line","color":"#b07f42","strokeWidth":1.2,"clip":true},"encoding":{
"x":{"field":"t","type":"quantitative","scale":{"domain":[-0.855,144.54],"nice":false,"zero":false,"padding":0},"axis":{"title":null}},
"y":{"field":"p","type":"quantitative","scale":{"domain":[80.775,101.115],"nice":false,"zero":false},"axis":{"title":null}}}},
{"data":{"name":"tags"},"mark":{"type":"rule","strokeWidth":11.5},"encoding":{
"x":{"field":"start","type":"quantitative","scale":{"domain":[-0.855,144.54],"nice":false,"zero":false,"padding":0},"axis":{"title":null}},"x2":{"field":"end"},
"y":{"field":"p","type":"quantitative","scale":{"domain":[80.775,101.115],"nice":false,"zero":false},"axis":{"title":null}},
"color":{"field":"kind","type":"nominal","scale":{"domain":["gain","loss","last"],"range":["#46a858","#b5333c","#8fc77f"]}}}},
{"data":{"name":"tags"},"transform":[{"filter":"datum.label!=='ETSY'"}],"mark":{"type":"text","align":"left","baseline":"middle","dx":5.5,"fontSize":7.6},"encoding":{
"x":{"field":"start","type":"quantitative","scale":{"domain":[-0.855,144.54],"nice":false,"zero":false,"padding":0},"axis":{"title":null}},
"y":{"field":"p","type":"quantitative","scale":{"domain":[80.775,101.115],"nice":false,"zero":false},"axis":{"title":null}},
"text":{"field":"label"},
"color":{"field":"kind","type":"nominal","scale":{"domain":["gain","loss","last"],"range":["#a6e6ac","#8fd69a","#8f3a30"]}}}},
{"data":{"name":"tags"},"transform":[{"filter":"datum.label==='ETSY'"}],"mark":{"type":"text","align":"left","baseline":"middle","dx":2.5,"fontSize":7.6,"color":"#8f3a30"},"encoding":{
"x":{"field":"start","type":"quantitative","scale":{"domain":[-0.855,144.54],"nice":false,"zero":false,"padding":0},"axis":{"title":null}},
"y":{"field":"p","type":"quantitative","scale":{"domain":[80.775,101.115],"nice":false,"zero":false},"axis":{"title":null}},
"text":{"field":"label"}}},
{"data":{"name":"notes"},"mark":{"type":"text","align":"left","baseline":"middle","fontSize":8.2,"color":"#79b59a"},"encoding":{
"x":{"field":"t","type":"quantitative","scale":{"domain":[-0.855,144.54],"nice":false,"zero":false,"padding":0},"axis":{"title":null}},
"y":{"field":"p","type":"quantitative","scale":{"domain":[80.775,101.115],"nice":false,"zero":false},"axis":{"title":null}},
"text":{"field":"label"}}},
{"data":{"values":[{"t":110.9,"p":81.23}]},"mark":{"type":"point","shape":"square","size":90,"filled":false,"strokeWidth":1,"color":"#7a3a2e","opacity":1},"encoding":{
"x":{"field":"t","type":"quantitative","scale":{"domain":[-0.855,144.54],"nice":false,"zero":false,"padding":0},"axis":{"title":null}},
"y":{"field":"p","type":"quantitative","scale":{"domain":[80.775,101.115],"nice":false,"zero":false},"axis":{"title":null}}}},
{"data":{"values":[{"t":110.9,"p":81.23,"label":"E"}]},"mark":{"type":"text","fontSize":8,"color":"#a0483a","align":"center","baseline":"middle"},"encoding":{
"x":{"field":"t","type":"quantitative","scale":{"domain":[-0.855,144.54],"nice":false,"zero":false,"padding":0},"axis":{"title":null}},
"y":{"field":"p","type":"quantitative","scale":{"domain":[80.775,101.115],"nice":false,"zero":false},"axis":{"title":null}},
"text":{"field":"label"}}}
]
}
]
},
{
"width":932,"height":79,
"view":{"stroke":null,"fill":{"gradient":"linear","x1":0,"y1":0,"x2":0,"y2":1,"stops":[{"offset":0,"color":"#000000"},{"offset":1,"color":"#1c1032"}]}},
"layer":[
{"data":{"name":"rsiLevels"},"mark":{"type":"rule","strokeDash":[4,4],"strokeWidth":1,"color":"#4c4c52"},"encoding":{
"y":{"field":"rsi","type":"quantitative","scale":{"domain":[21,87.6],"nice":false,"zero":false},
"axis":{"title":null,"orient":"right","offset":-34,"labels":false,"ticks":false,"domainColor":"#2a8a8f","domainWidth":1.6}}}},
{"data":{"name":"rsiLabels"},"mark":{"type":"text","align":"left","baseline":"middle","fontSize":7.6,"color":"#7fb591"},"encoding":{
"x":{"datum":140.2,"type":"quantitative","scale":{"domain":[-0.855,144.54],"nice":false,"zero":false},"axis":{"title":null}},
"y":{"field":"rsi","type":"quantitative","scale":{"domain":[21,87.6],"nice":false,"zero":false},"axis":{"title":null}},
"text":{"field":"rsi","type":"quantitative","format":".2f"}}},
{"data":{"name":"rsi"},"transform":[{"filter":"datum.t<=8"}],"mark":{"type":"area","color":"#3a2a36","clip":true},"encoding":{
"x":{"field":"t","type":"quantitative","scale":{"domain":[-0.855,144.54],"nice":false,"zero":false},
"axis":{"title":null,"orient":"bottom","labels":false,"ticks":false,"domainColor":"#2a8a8f","domainWidth":1.6}},
"y":{"field":"rsi","type":"quantitative","scale":{"domain":[21,87.6],"nice":false,"zero":false},"axis":{"title":null}},"y2":{"field":"sig"}}},
{"data":{"name":"rsi"},"transform":[{"filter":"datum.t>=8&&datum.t<=29"}],"mark":{"type":"area","color":"#431a2e","clip":true},"encoding":{
"x":{"field":"t","type":"quantitative","scale":{"domain":[-0.855,144.54],"nice":false,"zero":false},"axis":{"title":null}},
"y":{"field":"rsi","type":"quantitative","scale":{"domain":[21,87.6],"nice":false,"zero":false},"axis":{"title":null}},"y2":{"field":"sig"}}},
{"data":{"name":"rsi"},"transform":[{"filter":"datum.t>=29&&datum.t<=66"}],"mark":{"type":"area","color":"#0d4032","clip":true},"encoding":{
"x":{"field":"t","type":"quantitative","scale":{"domain":[-0.855,144.54],"nice":false,"zero":false},"axis":{"title":null}},
"y":{"field":"rsi","type":"quantitative","scale":{"domain":[21,87.6],"nice":false,"zero":false},"axis":{"title":null}},"y2":{"field":"sig"}}},
{"data":{"name":"rsi"},"transform":[{"filter":"datum.t>=68&&datum.t<=71"}],"mark":{"type":"area","color":"#0d4032","clip":true},"encoding":{
"x":{"field":"t","type":"quantitative","scale":{"domain":[-0.855,144.54],"nice":false,"zero":false},"axis":{"title":null}},
"y":{"field":"rsi","type":"quantitative","scale":{"domain":[21,87.6],"nice":false,"zero":false},"axis":{"title":null}},"y2":{"field":"sig"}}},
{"data":{"name":"rsi"},"transform":[{"filter":"datum.t>=71&&datum.t<=84"}],"mark":{"type":"area","color":"#2a2a36","clip":true},"encoding":{
"x":{"field":"t","type":"quantitative","scale":{"domain":[-0.855,144.54],"nice":false,"zero":false},"axis":{"title":null}},
"y":{"field":"rsi","type":"quantitative","scale":{"domain":[21,87.6],"nice":false,"zero":false},"axis":{"title":null}},"y2":{"field":"sig"}}},
{"data":{"name":"rsi"},"transform":[{"filter":"datum.t>=84"}],"mark":{"type":"area","color":"#431a2e","clip":true},"encoding":{
"x":{"field":"t","type":"quantitative","scale":{"domain":[-0.855,144.54],"nice":false,"zero":false},"axis":{"title":null}},
"y":{"field":"rsi","type":"quantitative","scale":{"domain":[21,87.6],"nice":false,"zero":false},"axis":{"title":null}},"y2":{"field":"sig"}}},
{"data":{"name":"rsi"},"mark":{"type":"line","color":"#5e6062","strokeWidth":1.5,"clip":true},"encoding":{
"x":{"field":"t","type":"quantitative","scale":{"domain":[-0.855,144.54],"nice":false,"zero":false},"axis":{"title":null}},
"y":{"field":"sig","type":"quantitative","scale":{"domain":[21,87.6],"nice":false,"zero":false},"axis":{"title":null}}}},
{"data":{"name":"rsi"},"transform":[{"filter":"datum.t<=17"}],"mark":{"type":"line","color":"#b07f42","strokeWidth":1.5,"clip":true},"encoding":{
"x":{"field":"t","type":"quantitative","scale":{"domain":[-0.855,144.54],"nice":false,"zero":false},"axis":{"title":null}},
"y":{"field":"rsi","type":"quantitative","scale":{"domain":[21,87.6],"nice":false,"zero":false},"axis":{"title":null}}}},
{"data":{"name":"rsi"},"transform":[{"filter":"datum.t>=24&&datum.t<=29"}],"mark":{"type":"line","color":"#b07f42","strokeWidth":1.5,"clip":true},"encoding":{
"x":{"field":"t","type":"quantitative","scale":{"domain":[-0.855,144.54],"nice":false,"zero":false},"axis":{"title":null}},
"y":{"field":"rsi","type":"quantitative","scale":{"domain":[21,87.6],"nice":false,"zero":false},"axis":{"title":null}}}},
{"data":{"name":"rsi"},"transform":[{"filter":"datum.t>=17&&datum.t<=24"}],"mark":{"type":"line","color":"#c93434","strokeWidth":1.5,"clip":true},"encoding":{
"x":{"field":"t","type":"quantitative","scale":{"domain":[-0.855,144.54],"nice":false,"zero":false},"axis":{"title":null}},
"y":{"field":"rsi","type":"quantitative","scale":{"domain":[21,87.6],"nice":false,"zero":false},"axis":{"title":null}}}},
{"data":{"name":"rsi"},"transform":[{"filter":"datum.t>=29&&datum.t<=85"}],"mark":{"type":"line","color":"#45b35a","strokeWidth":1.5,"clip":true},"encoding":{
"x":{"field":"t","type":"quantitative","scale":{"domain":[-0.855,144.54],"nice":false,"zero":false},"axis":{"title":null}},
"y":{"field":"rsi","type":"quantitative","scale":{"domain":[21,87.6],"nice":false,"zero":false},"axis":{"title":null}}}},
{"data":{"name":"rsi"},"transform":[{"filter":"datum.t>=85"}],"mark":{"type":"line","color":"#b07f42","strokeWidth":1.5,"clip":true},"encoding":{
"x":{"field":"t","type":"quantitative","scale":{"domain":[-0.855,144.54],"nice":false,"zero":false},"axis":{"title":null}},
"y":{"field":"rsi","type":"quantitative","scale":{"domain":[21,87.6],"nice":false,"zero":false},"axis":{"title":null}}}},
{"data":{"values":[{"t":-0.1,"rsi":77.5,"label":"COLORATO RSI V 2.1"}]},"mark":{"type":"text","align":"left","baseline":"middle","fontSize":8.2,"color":"#79b59a"},"encoding":{
"x":{"field":"t","type":"quantitative","scale":{"domain":[-0.855,144.54],"nice":false,"zero":false},"axis":{"title":null}},
"y":{"field":"rsi","type":"quantitative","scale":{"domain":[21,87.6],"nice":false,"zero":false},"axis":{"title":null}},
"text":{"field":"label"}}}
]
},
{
"width":932,"height":19,
"view":{"stroke":null,"fill":"#1f1339"},
"layer":[
{"data":{"values":[{"t":139.24}]},"mark":{"type":"rule","color":"#2a8a8f","strokeWidth":1.6},"encoding":{
"x":{"field":"t","type":"quantitative","scale":{"domain":[-0.855,144.54],"nice":false,"zero":false},"axis":null}}},
{"data":{"name":"timeLabels"},"mark":{"type":"text","align":"center","baseline":"middle","fontSize":7.6,"color":"#7fb591"},"encoding":{
"x":{"field":"t","type":"quantitative","scale":{"domain":[-0.855,144.54],"nice":false,"zero":false},"axis":null},
"text":{"field":"label"}}}
]
}
]
}
